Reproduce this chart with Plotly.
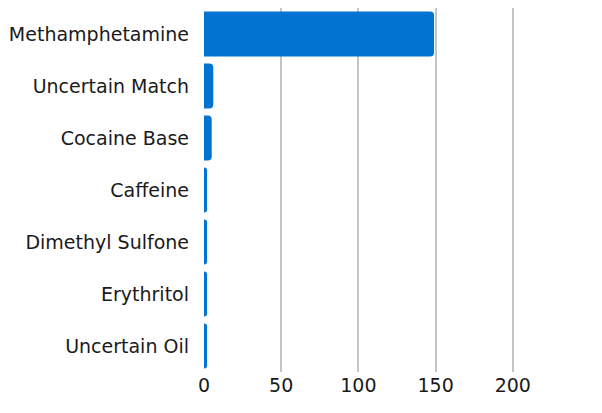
import plotly.graph_objects as go

categories = ["Methamphetamine", "Uncertain Match", "Cocaine Base", "Caffeine",
              "Dimethyl Sulfone", "Erythritol", "Uncertain Oil"]
values = [149, 6, 5, 2, 2, 2, 2]
tick_vals = [0, 50, 100, 150, 200]

fig = go.Figure(go.Bar(
    x=values, y=categories, orientation="h",
    marker=dict(color="#0074D0", line=dict(width=0)),
))
fig.update_layout(
    width=594, height=405,
    margin=dict(l=196, r=12, t=0, b=41, autoexpand=False),
    paper_bgcolor="white", plot_bgcolor="white",
    font=dict(family="DejaVu Sans, sans-serif", size=19, color="#1a1a1a"),
    bargap=0.13,
    barcornerradius=4,
    showlegend=False,
)
fig.update_yaxes(autorange="reversed", showgrid=False, ticks="", ticklabelstandoff=14,
                 automargin=False)
fig.update_xaxes(range=[0, 250], tickvals=tick_vals, showgrid=True,
                 gridcolor="#c4c4c4", gridwidth=1.5, zeroline=False,
                 showline=False, ticks="", automargin=False)
fig.write_html("out.html")
